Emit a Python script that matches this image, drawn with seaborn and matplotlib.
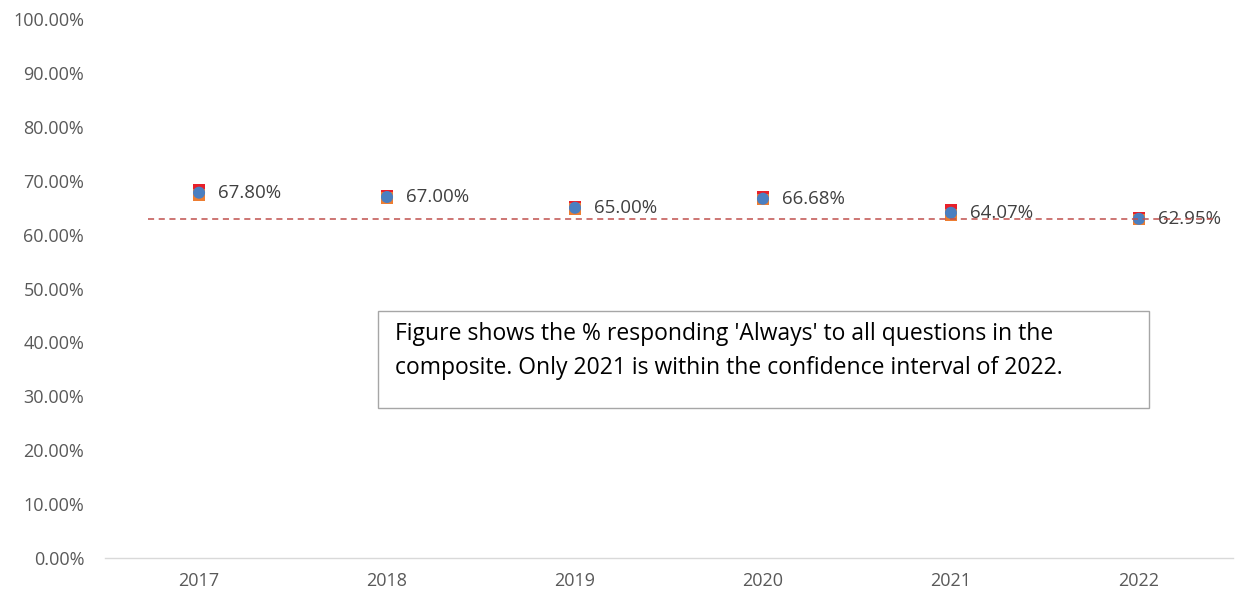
import matplotlib
matplotlib.use("Agg")
import matplotlib.pyplot as plt
import seaborn as sns
import pandas as pd
from matplotlib.patches import Rectangle

years = ["2017", "2018", "2019", "2020", "2021", "2022"]
values = [67.80, 67.00, 65.00, 66.68, 64.07, 62.95]
upper_ci = [68.30, 67.30, 65.20, 67.00, 64.60, 63.10]
lower_ci = [67.40, 66.80, 64.80, 66.50, 63.70, 62.80]
benchmark = 62.95
note = ("Figure shows the % responding 'Always' to all questions in the\n"
        "composite. Only 2021 is within the confidence interval of 2022.")

df = pd.DataFrame({"year": years, "value": values, "upper": upper_ci, "lower": lower_ci})

sns.set_theme(style="white")
plt.rcParams['font.family'] = ['Open Sans', 'DejaVu Sans']

fig = plt.figure(figsize=(12.36, 5.99), dpi=100)
ax = fig.add_axes([0.085, 0.0684, 0.9125, 0.8996])

sns.scatterplot(data=df, x="year", y="upper", marker="s", color="#e8202a", s=65,
                edgecolor="none", ax=ax, zorder=3)
sns.scatterplot(data=df, x="year", y="lower", marker="s", color="#ed7d31", s=70,
                edgecolor="none", ax=ax, zorder=3)
sns.scatterplot(data=df, x="year", y="value", marker="o", color="#4a7fc1", s=75,
                edgecolor="none", ax=ax, zorder=4)

for i, v in enumerate(values):
    ax.annotate(f"{v:.2f}%", (i, v), xytext=(14, 0), textcoords="offset points",
                va="center", ha="left", fontsize=13.5, color="#404040", zorder=5)

ax.axhline(benchmark, xmin=0.038, xmax=0.984, color="#c0504d", linestyle=(0, (4, 3)),
           linewidth=1.1, zorder=6)

ax.set_xlim(-0.5, 5.5)
ax.set_ylim(0, 100)
ax.set_yticks(range(0, 101, 10))
ax.set_yticklabels([f"{t:.2f}%" for t in range(0, 101, 10)])
ax.set_xlabel("")
ax.set_ylabel("")
ax.tick_params(axis="y", labelsize=13, colors="#595959", length=0, pad=15)
ax.tick_params(axis="x", labelsize=13, colors="#595959", length=0, pad=10)
for side in ["top", "right", "left"]:
    ax.spines[side].set_visible(False)
ax.spines["bottom"].set_color("#d9d9d9")
ax.spines["bottom"].set_linewidth(1)

# note box (fixed size, like the Excel text box)
fig.patches.append(Rectangle((378 / 1236, 1 - 408 / 599), 771 / 1236, 97 / 599,
                             transform=fig.transFigure, facecolor="white",
                             edgecolor="#a6a6a6", linewidth=1, zorder=10))
fig.text(395 / 1236, 1 - 351 / 599, note, fontsize=16.5, color="#000000",
         va="center", ha="left", linespacing=1.55, zorder=11)

plt.savefig("out.png", dpi=100, facecolor="white")
